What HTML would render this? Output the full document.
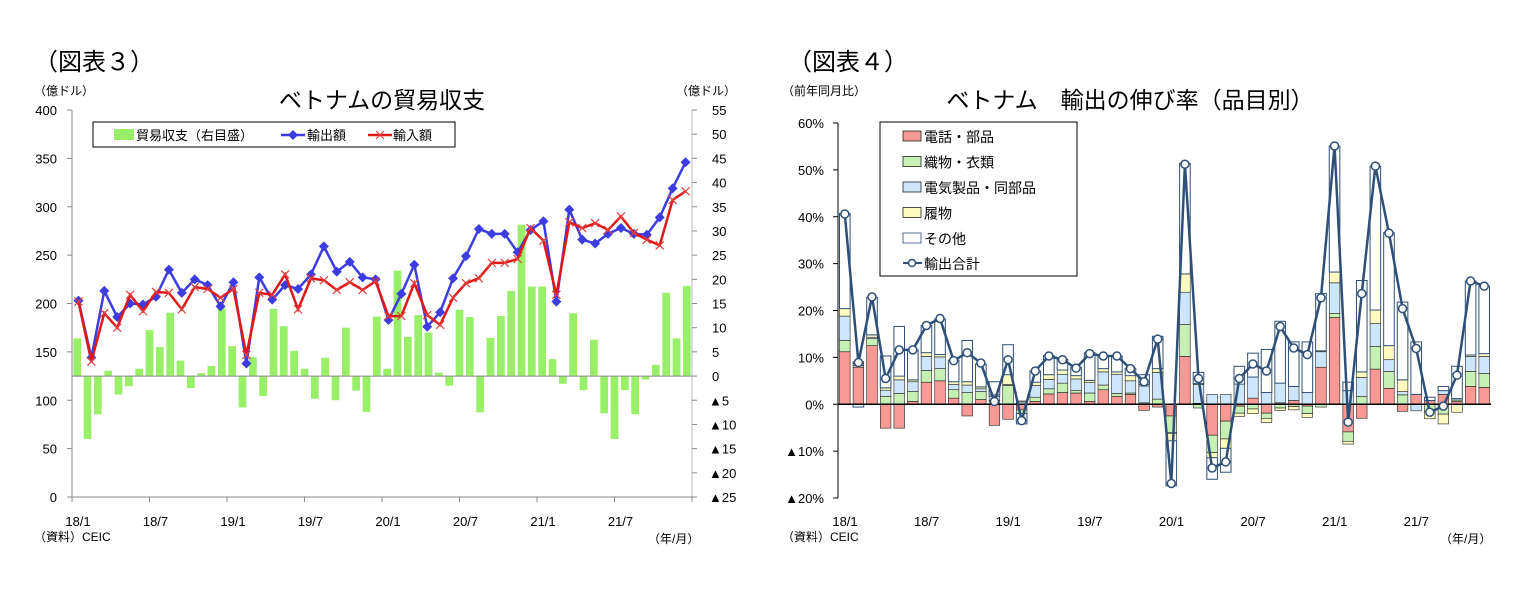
<!DOCTYPE html>
<html><head><meta charset="utf-8"><style>
body{margin:0;background:#fff;width:1520px;height:600px;overflow:hidden}
svg text{font-family:"Liberation Sans","Noto Sans CJK JP",sans-serif}
</style></head><body>
<svg id="s" width="1520" height="600" xmlns="http://www.w3.org/2000/svg">
<text x="34" y="70" font-size="24" font-family="Liberation Serif,Noto Serif CJK SC,serif">（図表３）</text>
<text x="34" y="95" font-size="12">（億ドル）</text>
<text x="676" y="95" font-size="12">（億ドル）</text>
<text x="382" y="108" font-size="23" text-anchor="middle">ベトナムの貿易収支</text>
<text x="34" y="541" font-size="12">（資料）CEIC</text>
<text x="648" y="543" font-size="12">（年/月）</text>
<text x="788" y="70" font-size="24" font-family="Liberation Serif,Noto Serif CJK SC,serif">（図表４）</text>
<text x="782" y="95" font-size="12">（前年同月比）</text>
<text x="1130" y="108" font-size="23" text-anchor="middle">ベトナム　輸出の伸び率（品目別）</text>
<text x="782" y="541" font-size="12">（資料）CEIC</text>
<text x="1440" y="543" font-size="12">（年/月）</text>
<g id="c3"></g>
<g id="c4"></g>
</svg>
<script>
const months=["18/1","18/7","19/1","19/7","20/1","20/7","21/1","21/7"];
const exportsVal=[203,144,213,186,200,199,207,235,211,225,219,197,222,138,227,204,219,215,230,259,233,243,227,225,183,210,240,176,191,226,249,277,272,272,253,276,285,202,297,266,262,272,278,272,271,289,319,346];
const importsVal=[202,140,190,175,209,192,212,211,194,217,215,206,215,147,211,209,230,194,226,224,214,222,214,223,187,187,221,188,178,206,221,226,242,242,246,278,265,209,284,278,283,276,290,273,266,260,307,316];
const balanceVal=[7.8,-13,-7.9,1.1,-3.8,-2.1,1.5,9.5,6,13.1,3.2,-2.5,0.6,2.1,14,6.2,-6.5,3.9,-4.1,13.9,10.3,5.2,1.5,-4.7,3.8,-5,10,-3,-7.4,12.3,1.5,21.8,8.1,12.6,9,0.7,-2,13.7,12.2,-7.5,7.9,12.4,17.6,31.3,18.5,18.5,3.5,-1.6,13,-2.9,7.5,-7.7,-13,-2.9,-7.9,-0.7,2.3,17.2,7.8,18.6];
const leftTicks=[0,50,100,150,200,250,300,350,400];
const rightTicks=["▲25","▲20","▲15","▲10","▲5","0","5","10","15","20","25","30","35","40","45","50","55"];

const phones=[11.2,7.9,12.5,-5.1,-5.1,0.6,4.7,5,1.3,-2.5,1,-4.5,-3.2,-1.2,0.6,2.2,2.5,2.4,0.6,3.1,1.7,2.1,-1.3,-0.6,-2.5,10.2,0.2,-6.6,-3.6,-0.4,1.3,-1.9,0.3,0.8,-0.4,7.9,18.5,-5.9,-3,7.5,3.4,-1.5,2.1,0.8,2.1,0.6,3.8,3.6];
const textiles=[2.4,0.4,1.5,1.7,2.3,2.1,2.5,2.6,1.8,2.5,1.7,0.8,4,-0.8,0.9,1.1,2,0.5,1.8,1,0.6,0.3,0.3,1.1,-3.5,6.8,-0.8,-3.7,-3.8,-1.5,-1,-1.1,-0.8,-0.5,-1.6,-0.6,0.9,-2,1.7,4.8,3.6,2,0,-1.5,-2.1,0.3,3.2,3];
const electrical=[5.2,0.4,0.3,1.3,2.9,2.1,3,2.5,1.1,1.6,0.6,0.9,0.2,0.5,2.5,2,1.9,2.5,2.2,2.8,4.1,2.6,3.6,5.7,-0.2,6.9,4,2.1,2.1,4.3,4.5,2.5,4.2,3,2.5,3.3,6.5,2.9,4,4.9,2.5,0.7,-1.4,0,0.8,0.3,3.2,3.6];
const footwear=[1.6,0.4,0.5,0.5,0.8,0.4,0.8,0.5,0.6,0.7,0.4,0.3,2.1,0.2,0.7,1,0.9,0.7,0.5,0.7,0.5,1.1,0.3,0.8,-1.6,3.9,0.2,-1.1,-2,-0.7,-1,-0.9,-0.5,-0.7,-0.8,0.2,2.3,-0.6,1.2,2.9,3,2.5,0,-1.6,-2.1,-1.7,0.3,0.6];
const others=[20.3,-0.6,8,6.8,10.6,6.4,5.8,7.6,4.6,8.8,4.9,2.8,6.4,-2.2,2.4,4.1,2.3,1.8,5.9,2.7,3.4,1.6,2.1,6.9,-9.6,23.6,2.4,-4.6,-5.1,3.8,5.1,9.2,13.2,9.5,10.8,12.2,26.9,1.8,19.5,30.7,24.1,16.6,11.2,0.7,0.9,6.9,15.8,14.4];
const totalGrowth=[40.6,8.9,22.9,5.5,11.6,11.6,16.8,18.3,9.3,11,8.8,0.6,9.5,-3.5,7.1,10.3,9.5,7.7,10.8,10.3,10.3,7.6,4.8,13.9,-16.9,51.2,5.5,-13.6,-12.3,5.5,8.6,7.1,16.6,12,10.6,22.7,55.1,-3.8,23.6,50.8,36.5,20.4,11.9,-1.7,-0.4,6.2,26.3,25.2];
const pctTicks=["▲20%","▲10%","0%","10%","20%","30%","40%","50%","60%"];
const seriesNames=["電話・部品","織物・衣類","電気製品・同部品","履物","その他"];
const seriesFill=["#f79994","#c6f0b4","#cde6fb","#fdfbc0","#ffffff"];

const NS="http://www.w3.org/2000/svg";
function mk(p,tag,at,txt){const e=document.createElementNS(NS,tag);for(const k in at)e.setAttribute(k,at[k]);if(txt!==undefined)e.textContent=txt;p.appendChild(e);return e;}

// ---- chart 3
const c3=document.getElementById('c3');
const X0=72,X1=692,YT=110,YB=497;
const xm=i=>X0+(X1-X0)/48*(i+0.5);
const yl=v=>YB-(v/400)*(YB-YT);
const yr=v=>YB-((v+25)/80)*(YB-YT);
const bw=(X1-X0)/balanceVal.length;
balanceVal.forEach((v,i)=>{
  const y0=yr(0),y1=yr(v);
  const r=mk(c3,'rect',{x:X0+bw*i+1.3,y:Math.min(y0,y1),width:bw-2.6,height:Math.abs(y1-y0),fill:'#99f068'});
  
  
});
mk(c3,'line',{x1:X0,x2:X1,y1:yr(0),y2:yr(0),stroke:'#888','stroke-width':1});
mk(c3,'line',{x1:X0,x2:X0,y1:YT,y2:YB,stroke:'#888'});
mk(c3,'line',{x1:X1,x2:X1,y1:YT,y2:YB,stroke:'#bbb'});
mk(c3,'line',{x1:X0,x2:X1,y1:YB,y2:YB,stroke:'#888'});
leftTicks.forEach(v=>{
  mk(c3,'line',{x1:X0-5,x2:X0,y1:yl(v),y2:yl(v),stroke:'#888'});
  const t=mk(c3,'text',{x:57,y:yl(v)+5,'font-size':13,'text-anchor':'end'},String(v));
  
  
});
rightTicks.forEach((s,i)=>{
  const v=-25+5*i;
  mk(c3,'line',{x1:X1,x2:X1+5,y1:yr(v),y2:yr(v),stroke:'#888'});
  const t=mk(c3,'text',{x:v<0?709:712,y:yr(v)+5,'font-size':13},s);
  
  
});
months.forEach((m,i)=>{
  const x=X0+(X1-X0)/8*i;
  mk(c3,'line',{x1:x,x2:x,y1:YB,y2:YB+5,stroke:'#888'});
  const t=mk(c3,'text',{x:x+6,y:526,'font-size':13,'text-anchor':'middle'},m);
  
  
});
mk(c3,'line',{x1:X1,x2:X1,y1:YB,y2:YB+5,stroke:'#888'});
function pline(vals,col){return vals.map((v,i)=>xm(i)+','+yl(v)).join(' ');}
const pl1=mk(c3,'polyline',{points:pline(exportsVal),fill:'none',stroke:'#3c3ce0','stroke-width':2.5});


exportsVal.forEach((v,i)=>{const x=xm(i),y=yl(v);
  const d=mk(c3,'polygon',{points:`${x},${y-5} ${x+5},${y} ${x},${y+5} ${x-5},${y}`,fill:'#3c3ce0'});
  
  });
const pl2=mk(c3,'polyline',{points:pline(importsVal),fill:'none',stroke:'#e01818','stroke-width':2.5});


importsVal.forEach((v,i)=>{const x=xm(i),y=yl(v);
  const d=mk(c3,'path',{d:`M${x-4},${y-4}L${x+4},${y+4}M${x-4},${y+4}L${x+4},${y-4}`,stroke:'#e04040','stroke-width':1.2});
  
  });
// legend
const lg=mk(c3,'g',{});


mk(lg,'rect',{x:93,y:122,width:362,height:25,fill:'#fff',stroke:'#000'});
mk(lg,'rect',{x:114,y:129,width:20,height:11,fill:'#99f068'});
mk(lg,'text',{x:136,y:140,'font-size':13},'貿易収支（右目盛）');
mk(lg,'line',{x1:281,x2:305,y1:135,y2:135,stroke:'#3c3ce0','stroke-width':2.5});
mk(lg,'polygon',{points:'293,130 298,135 293,140 288,135',fill:'#3c3ce0'});
mk(lg,'text',{x:307,y:140,'font-size':13},'輸出額');
mk(lg,'line',{x1:368,x2:392,y1:135,y2:135,stroke:'#e01818','stroke-width':2.5});
mk(lg,'path',{d:'M376,131L384,139M376,139L384,131',stroke:'#e04040'});
mk(lg,'text',{x:393,y:140,'font-size':13},'輸入額');

// ---- chart 4
const c4=document.getElementById('c4');
const A0=838,A1=1491,BT=123,BB=498;
const slot=(A1-A0)/48;
const xc=i=>A0+slot*(i+0.5);
const yp=v=>BB-((v+20)/80)*(BB-BT);
const series=[phones,textiles,electrical,footwear,others];
for(let i=0;i<48;i++){
  let pos=0,neg=0;
  series.forEach((arr,k)=>{
    const v=arr[i];let a,b;
    if(v>=0){a=pos;b=pos+v;pos=b;}else{a=neg;b=neg+v;neg=b;}
    const y0=yp(a),y1=yp(b);
    const r=mk(c4,'rect',{x:xc(i)-5.3,y:Math.min(y0,y1),width:10.6,height:Math.abs(y1-y0),fill:seriesFill[k],stroke:k==4?'#2f4f78':'#222','stroke-width':k==4?1:0.6});
    
    
  });
}
mk(c4,'line',{x1:A0,x2:A1,y1:yp(0),y2:yp(0),stroke:'#000','stroke-width':1.5});
mk(c4,'line',{x1:A0,x2:A0,y1:BT,y2:BB,stroke:'#000'});
pctTicks.forEach((s,i)=>{
  const v=-20+10*i;
  mk(c4,'line',{x1:A0-5,x2:A0,y1:yp(v),y2:yp(v),stroke:'#000'});
  const t=mk(c4,'text',{x:824,y:yp(v)+5,'font-size':13,'text-anchor':'end'},s);
  
  
});
months.forEach((m,i)=>{
  const x=A0+slot*6*i;
  const t=mk(c4,'text',{x:x+7,y:526,'font-size':13,'text-anchor':'middle'},m);
  
  
});
const tl=mk(c4,'polyline',{points:totalGrowth.map((v,i)=>xc(i)+','+yp(v)).join(' '),fill:'none',stroke:'#2f4f78','stroke-width':2.5});


totalGrowth.forEach((v,i)=>{
  const c=mk(c4,'circle',{cx:xc(i),cy:yp(v),r:4,fill:'#fff',stroke:'#2f4f78','stroke-width':1.5});
  
  
});
const lg4=mk(c4,'g',{});


mk(lg4,'rect',{x:880,y:122,width:197,height:154,fill:'#fff',stroke:'#000'});
seriesNames.forEach((n,k)=>{
  const y=136+25.5*k;
  mk(lg4,'rect',{x:903,y:y-5,width:18,height:10,fill:seriesFill[k],stroke:k==4?'#2f4f78':'#222','stroke-width':0.8});
  mk(lg4,'text',{x:924,y:y+6,'font-size':14},n);
});
mk(lg4,'line',{x1:903,x2:922,y1:263,y2:263,stroke:'#2f4f78','stroke-width':2});
mk(lg4,'circle',{cx:912,cy:263,r:3.5,fill:'#fff',stroke:'#2f4f78','stroke-width':1.5});
mk(lg4,'text',{x:924,y:269,'font-size':14},'輸出合計');
</script>
</body></html>
